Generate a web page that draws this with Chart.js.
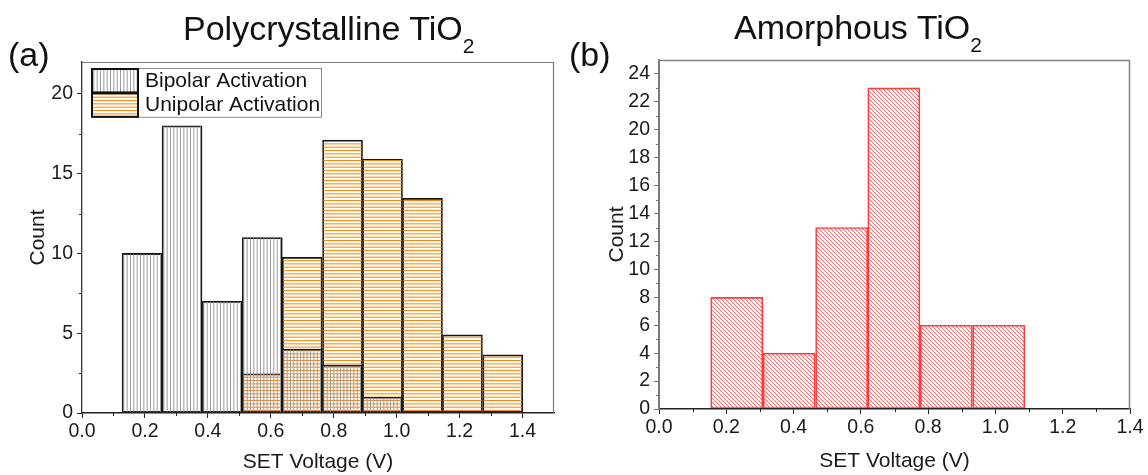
<!DOCTYPE html>
<html>
<head>
<meta charset="utf-8">
<script src="https://cdn.jsdelivr.net/npm/chart.js@4.4.1/dist/chart.umd.min.js"></script>
<style>
  html, body { margin:0; padding:0; background:#fff; }
  #wrap { position:relative; width:1148px; height:475px; overflow:hidden; font-family:"Liberation Sans", Arial, sans-serif; color:#111; }
  canvas { position:absolute; top:0; }
  .t { position:absolute; font-size:34px; line-height:34px; white-space:nowrap; }
  .t sub { font-size:21px; vertical-align:baseline; position:relative; top:13px; }
</style>
</head>
<body>
<div id="wrap">
  <canvas id="c1" width="574" height="475" style="left:0px"></canvas>
  <canvas id="c2" width="574" height="475" style="left:574px"></canvas>
  <div class="t" style="left:8px; top:37px;">(a)</div>
  <div class="t" style="left:183px; top:11px;">Polycrystalline TiO<sub>2</sub></div>
  <div class="t" style="left:569px; top:37px;">(b)</div>
  <div class="t" style="left:734px; top:10px;">Amorphous TiO<sub>2</sub></div>
</div>
<script>
// ---------------- data ----------------
const polyBinCenters   = [0.191, 0.318, 0.446, 0.573, 0.700, 0.828, 0.955, 1.082, 1.209, 1.337];
const bipolarCounts    = [10, 18, 7, 11, 4, 3, 1, null, null, null];
const unipolarCounts   = [null, null, null, 2.45, 9.75, 17.1, 15.9, 13.45, 4.9, 3.65];
const amorphBinCenters = [0.231, 0.387, 0.543, 0.698, 0.854, 1.010];
const amorphCounts     = [8, 4, 13, 23, 6, 6];
const seriesLabels     = ['Bipolar Activation', 'Unipolar Activation'];
const xLabel = 'SET Voltage (V)';
const yLabel = 'Count';

const FONT = '"Liberation Sans", Arial, sans-serif';
Chart.defaults.font.family = FONT;
Chart.defaults.color = '#1a1a1a';

// ---------------- fill patterns ----------------
function makePattern(w, h, draw) {
  const c = document.createElement('canvas');
  c.width = w; c.height = h;
  const g = c.getContext('2d');
  draw(g, w, h);
  return g.createPattern(c, 'repeat');
}
const greyVert = makePattern(10, 10, (g, w, h) => {
  g.fillStyle = '#9c9c9c';
  [0, 3.33, 6.67].forEach(x => g.fillRect(x, 0, 1, h));
});
const orangeHoriz = makePattern(10, 10, (g, w, h) => {
  g.fillStyle = '#ff8a10';
  [0, 3.33, 6.67].forEach(y => g.fillRect(0, y, w, 1.05));
});
const redDiag = makePattern(4, 4, (g) => {
  g.strokeStyle = 'rgba(255,60,60,0.85)';
  g.lineWidth = 0.95;
  g.beginPath();
  g.moveTo(-1, -1); g.lineTo(5, 5);
  g.moveTo(-1, 3); g.lineTo(1, 5);
  g.moveTo(3, -1); g.lineTo(5, 1);
  g.stroke();
});

// ---------------- helper plugins ----------------
const framePlugin = {
  id: 'frame',
  afterDraw(chart, args, opts) {
    const {ctx, chartArea: a} = chart;
    ctx.save();
    ctx.strokeStyle = opts.color || '#808080';
    ctx.lineWidth = opts.width || 1.3;
    ctx.beginPath();
    ctx.moveTo(a.left, a.top + 0.5);
    ctx.lineTo(a.right - 0.5, a.top + 0.5);
    ctx.lineTo(a.right - 0.5, a.bottom);
    ctx.stroke();
    ctx.restore();
  }
};
const minorTicks = {
  id: 'minorTicks',
  afterDraw(chart, args, opts) {
    const {ctx} = chart;
    const xs = chart.scales.x, ys = chart.scales.y;
    ctx.save();
    ctx.lineWidth = 1;
    const xt = xs.ticks.map(t => t.value);
    const xstep = xt[1] - xt[0];
    ctx.strokeStyle = opts.xColor || '#222';
    for (let v = xt[0] + xstep / 2; v < xs.max - 1e-9; v += xstep) {
      const px = Math.round(xs.getPixelForValue(v)) + 0.5;
      ctx.beginPath(); ctx.moveTo(px, xs.top); ctx.lineTo(px, xs.top + 3); ctx.stroke();
    }
    const yt = ys.ticks.map(t => t.value);
    const ystep = yt[1] - yt[0];
    ctx.strokeStyle = opts.yColor || '#222';
    for (let v = yt[0] + ystep / 2; v < ys.max - 1e-9; v += ystep) {
      const py = Math.round(ys.getPixelForValue(v)) + 0.5;
      ctx.beginPath(); ctx.moveTo(ys.right - 3, py); ctx.lineTo(ys.right, py); ctx.stroke();
    }
    ctx.restore();
  }
};
const boxLegend = {
  id: 'boxLegend',
  afterDraw(chart) {
    const {ctx, chartArea: a} = chart;
    const x0 = a.left + 9, y0 = a.top + 6;
    const sw = 47, rh = 24.4, w = 230;
    ctx.save();
    ctx.fillStyle = '#fff';
    ctx.fillRect(x0, y0, w, rh * 2);
    ctx.strokeStyle = '#8c8c8c';
    ctx.lineWidth = 1;
    ctx.strokeRect(x0 + 0.5, y0 + 0.5, w, rh * 2);
    chart.data.datasets.forEach((ds, i) => {
      const y = y0 + i * rh;
      ctx.fillStyle = ds.backgroundColor;
      ctx.fillRect(x0, y, sw, rh);
      ctx.strokeStyle = '#111';
      ctx.lineWidth = 2;
      ctx.strokeRect(x0 + 1, y + 1, sw - 1, rh - 1);
      ctx.fillStyle = '#111';
      ctx.font = '21px ' + FONT;
      ctx.textBaseline = 'middle';
      ctx.textAlign = 'left';
      ctx.fillText(ds.label, x0 + sw + 7, y + rh / 2 + 1);
    });
    ctx.restore();
  }
};

function xScale(max, axisColor, tickColor, bottomPad, h) {
  return {
    type: 'linear', min: 0, max: max, offset: false,
    ticks: { stepSize: 0.2, includeBounds: false, autoSkip: false, maxRotation: 0,
             padding: 2, font: { size: 19.5 }, color: '#1a1a1a',
             callback: v => Number(v).toFixed(1) },
    grid: { drawOnChartArea: false, drawTicks: true, tickLength: 5, color: tickColor, offset: false },
    border: { display: true, color: axisColor, width: 1.4, z: 2 },
    title: { display: true, text: xLabel, font: { size: 21 }, color: '#1a1a1a',
             padding: { top: 0, bottom: bottomPad } },
    afterFit: s => { s.height = h; }
  };
}
function yScale(max, step, axisColor, tickColor, axisWidth, titlePad, w) {
  return {
    min: 0, max: max,
    ticks: { stepSize: step, includeBounds: false, padding: 4, font: { size: 19.5 }, color: '#1a1a1a' },
    grid: { drawOnChartArea: false, drawTicks: true, tickLength: 5, color: tickColor },
    border: { display: true, color: axisColor, width: axisWidth, z: 2 },
    title: { display: true, text: yLabel, font: { size: 21 }, color: '#1a1a1a',
             padding: { top: titlePad, bottom: 0 } },
    afterFit: s => { s.width = w; }
  };
}

const common = {
  responsive: false, animation: false, devicePixelRatio: 1,
  events: [],
  datasets: { bar: { grouped: false, barPercentage: 1, categoryPercentage: 1 } },
};

// ---------------- (a) Polycrystalline ----------------
new Chart(document.getElementById('c1'), {
  type: 'bar',
  data: {
    datasets: [
      { label: seriesLabels[0],
        data: polyBinCenters.map((x, i) => ({ x: x, y: bipolarCounts[i] })),
        backgroundColor: greyVert, borderColor: '#151515', borderWidth: 1.1, borderSkipped: false },
      { label: seriesLabels[1],
        data: polyBinCenters.map((x, i) => ({ x: x, y: unipolarCounts[i] })),
        backgroundColor: orangeHoriz, borderColor: '#151515', borderWidth: 1.1, borderSkipped: false }
    ]
  },
  options: Object.assign({}, common, {
    layout: { padding: { left: 0, top: 62, right: 20, bottom: 0 } },
    plugins: { legend: { display: false }, tooltip: { enabled: false },
               frame: { color: '#7a7a7a', width: 1.2 },
               minorTicks: { xColor: '#222', yColor: '#333' } },
    scales: {
      x: xScale(1.5, '#222', '#222', 0, 62),
      y: yScale(22, 5, '#333', '#333', 1.3, 25.4, 82)
    }
  }),
  plugins: [framePlugin, minorTicks, boxLegend]
});

// ---------------- (b) Amorphous ----------------
new Chart(document.getElementById('c2'), {
  type: 'bar',
  data: {
    datasets: [
      { label: 'Amorphous TiO2',
        data: amorphBinCenters.map((x, i) => ({ x: x, y: amorphCounts[i] })),
        backgroundColor: redDiag, borderColor: '#ff3b3b', borderWidth: 1, borderSkipped: false }
    ]
  },
  options: Object.assign({}, common, {
    layout: { padding: { left: 0, top: 60, right: 18, bottom: 0 } },
    plugins: { legend: { display: false }, tooltip: { enabled: false },
               frame: { color: '#808080', width: 1.5 },
               minorTicks: { xColor: '#222', yColor: '#777' } },
    scales: {
      x: xScale(1.4, '#222', '#222', 1.4, 66),
      y: yScale(25, 2, '#7a7a7a', '#7a7a7a', 2, 30.4, 85)
    }
  }),
  plugins: [framePlugin, minorTicks]
});
</script>
</body>
</html>
